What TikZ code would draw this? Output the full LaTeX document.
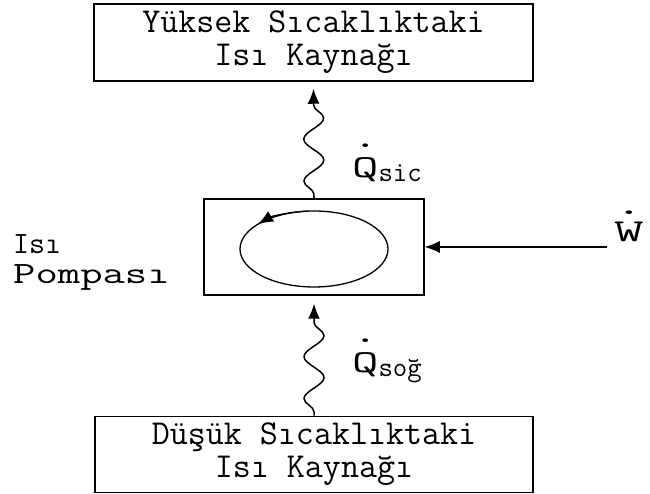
\documentclass[tikz,border=0pt]{standalone}
\usepackage{fontspec}
\usepackage{graphicx}
\usetikzlibrary{arrows.meta,decorations.pathmorphing}
\newcommand\hdot[2][0.95em]{\ooalign{#2\cr\hidewidth\raisebox{#1}{.}\hidewidth\cr}}
\begin{document}
\begin{tikzpicture}[x=1pt,y=1pt,
  box/.style={draw, line width=1.5pt, inner sep=0pt, align=center, font=\ttfamily\fontsize{35}{33}\selectfont},
  tip/.style={-{Latex[length=15pt,width=12pt]}},
  heat/.style={line width=1.5pt, tip, decorate,
    decoration={snake, amplitude=10pt, segment length=42pt, pre length=4pt, post length=12pt}},
  lbl/.style={inner sep=0pt}
]
\useasboundingbox (0,0) rectangle (650,494);
\node[box, minimum width=439pt, minimum height=77pt] (hot) at (313.5,451.5) {Yüksek Sıcaklıktaki\\Isı Kaynağı};
\node[box, minimum width=438pt, minimum height=76pt] (cold) at (314,39.5) {Düşük Sıcaklıktaki\\Isı Kaynağı};
\node[draw, line width=1.5pt, minimum width=220pt, minimum height=96pt, inner sep=0pt] (pump) at (314,247) {};
\draw[line width=1.3pt] (314,245) ellipse [x radius=74, y radius=38];
\draw[line width=1.3pt, tip] (314,245) ++(95:74 and 38) arc[start angle=95, end angle=139, x radius=74, y radius=38];
\draw[heat] (pump.north) -- ([yshift=-7pt]hot.south);
\draw[heat] (cold.north) -- ([yshift=-8pt]pump.south);
\coordinate (wstart) at (607,247);
\draw[line width=1.2pt, tip] (wstart) -- (pump.east);
\node[lbl, anchor=base, font=\ttfamily\fontsize{32}{32}\selectfont] (w) at (629,252) {\scalebox{1.8}[1]{\hdot[0.85em]{W}}};
\node[lbl, anchor=base west, font=\ttfamily\fontsize{32}{32}\selectfont] (qsic) at (352,316) {\scalebox{1.6}[1]{\hdot{Q}}\raisebox{-4pt}{\fontsize{28}{28}\selectfont sic}};
\node[lbl, anchor=base west, font=\ttfamily\fontsize{32}{32}\selectfont] (qsog) at (352,121) {\scalebox{1.6}[1]{\hdot{Q}}\raisebox{-4pt}{\fontsize{28}{28}\selectfont soğ}};
\node[lbl, anchor=west, align=left, font=\ttfamily\fontsize{31}{30}\selectfont] (plbl) at (13,232) {Isı\\\scalebox{1.4}[1]{Pompası}};
\end{tikzpicture}
\end{document}
